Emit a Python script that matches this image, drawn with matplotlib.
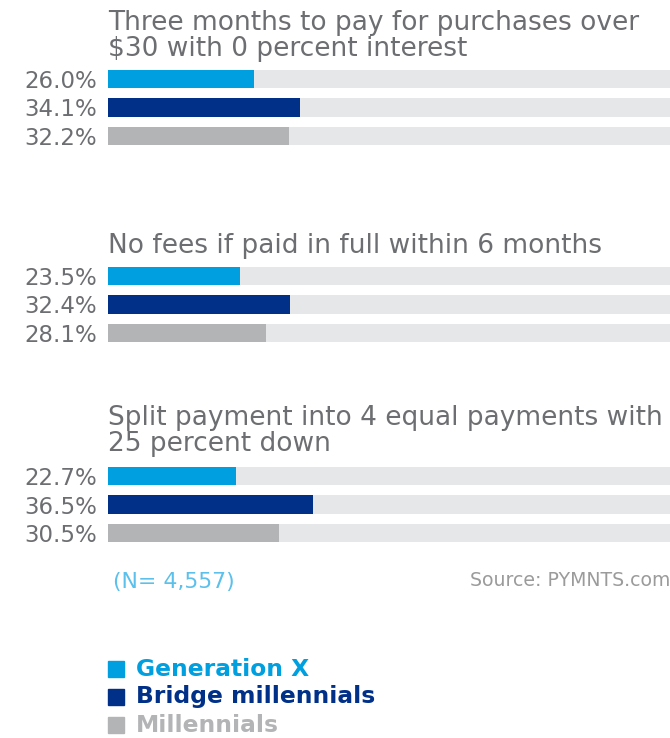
import matplotlib
matplotlib.use("Agg")
import matplotlib.pyplot as plt
from matplotlib.patches import Rectangle

titles = [
    "Three months to pay for purchases over\n$30 with 0 percent interest",
    "No fees if paid in full within 6 months",
    "Split payment into 4 equal payments with\n25 percent down",
]
series = ["Generation X", "Bridge millennials", "Millennials"]
gen_x = [26.0, 23.5, 22.7]
bridge = [34.1, 32.4, 36.5]
millennials = [32.2, 28.1, 30.5]
colors = ["#009FDF", "#003087", "#B3B4B6"]
bg_color = "#E6E7E8"
text_gray = "#6D6E71"

plt.rcParams["font.family"] = ["DejaVu Sans"]

W, H = 670, 738
fig = plt.figure(figsize=(W / 100, H / 100), dpi=100)

# axes top/bottom (pixels) for each group
group_px = [(65, 150), (262, 347), (462, 547)]
title_top_px = [10, 233, 405]
left_px = 108

for g in range(3):
    top, bot = group_px[g]
    ax = fig.add_axes([left_px / W, 1 - bot / H, 1 - left_px / W, (bot - top) / H])
    vals = [gen_x[g], bridge[g], millennials[g]]
    ys = [0, 1, 2]
    ax.barh(ys, [100] * 3, height=0.64, color=bg_color, zorder=1)
    ax.barh(ys, vals, height=0.64, color=colors, zorder=2)
    ax.set_xlim(0, 100)
    ax.set_ylim(2.5, -0.5)
    ax.set_yticks(ys)
    ax.set_yticklabels([f"{v:.1f}%" for v in vals], fontsize=16.5, color=text_gray)
    ax.tick_params(axis="y", length=0, pad=8)
    ax.set_xticks([])
    for s in ax.spines.values():
        s.set_visible(False)
    ax.patch.set_alpha(0)
    fig.text(left_px / W, 1 - title_top_px[g] / H, titles[g], ha="left", va="top",
             fontsize=19, color=text_gray, linespacing=1.02)

fig.text(113 / W, 1 - 582 / H, "(N= 4,557)", ha="left", va="center",
         fontsize=15.8, color="#5BC0EB")
fig.text(1.0, 1 - 581 / H, "Source: PYMNTS.com", ha="right", va="center",
         fontsize=13.6, color="#9B9B9B")

leg_y = [669, 697, 725]
for i, name in enumerate(series):
    y = leg_y[i]
    fig.patches.append(Rectangle((108 / W, 1 - (y + 8) / H), 16 / W, 16 / H,
                                 transform=fig.transFigure, color=colors[i]))
    fig.text(136 / W, 1 - y / H, name, ha="left", va="center", fontsize=16.8,
             fontweight="bold", color=colors[i])

fig.savefig("out.png", dpi=100)
